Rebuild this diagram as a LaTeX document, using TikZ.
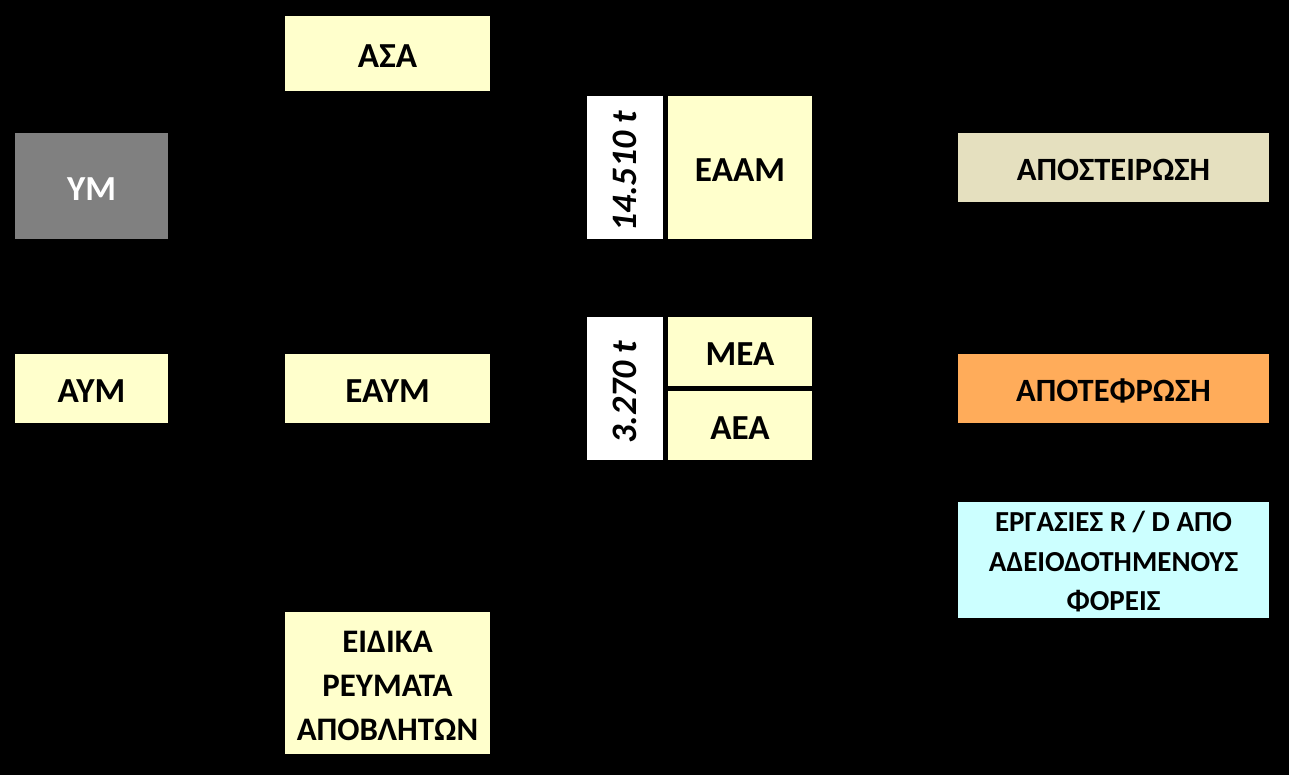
\documentclass[tikz,border=0pt]{standalone}
\usepackage{fontspec}
\setmainfont{Carlito}
\usepackage{tikz}
\usetikzlibrary{positioning}
\definecolor{boxyellow}{RGB}{255,255,204}
\definecolor{boxgray}{RGB}{128,128,128}
\definecolor{boxbeige}{RGB}{229,224,191}
\definecolor{boxorange}{RGB}{255,172,90}
\definecolor{boxcyan}{RGB}{204,255,255}

\begin{document}
\begin{tikzpicture}[x=0.02cm, y=-0.02cm,
    box/.style={fill=boxyellow, inner sep=0pt, align=center,
                text height=16.3pt, text depth=0pt,
                font=\fontsize{20}{24}\selectfont\bfseries},
    smallbox/.style={box, text height=15.3pt,
                font=\fontsize{18.5}{22}\selectfont\bfseries},
    multibox/.style={fill=boxyellow, inner sep=0pt, align=center},
    tonbox/.style={fill=white, inner sep=0pt, minimum width=1.52cm,
                   minimum height=2.86cm},
    tonlabel/.style={rotate=90, font=\fontsize{20.4}{24}\selectfont\bfseries\itshape}]
  % background
  \fill[black] (0,0) rectangle (1289,775);

  % sources
  \node[box, fill=boxgray, text=white, minimum width=3.06cm, minimum height=2.12cm] (ym) at (91.5,186) {ΥΜ};
  \node[box, minimum width=3.06cm, minimum height=1.38cm] (aym) at (91.5,388.5) {ΑΥΜ};

  % streams
  \node[box, minimum width=4.1cm, minimum height=1.5cm] (asa) at (387.5,53.5) {ΑΣΑ};
  \node[box, minimum width=4.1cm, minimum height=1.38cm] (eaym) at (387.5,388.5) {ΕΑΥΜ};
  \node[multibox, minimum width=4.1cm, minimum height=2.84cm,
        font=\fontsize{18.7}{25}\selectfont\bfseries] (eidika) at (387.5,683)
        {\rule{0pt}{15.4pt}ΕΙΔΙΚΑ\\ΡΕΥΜΑΤΑ\\ΑΠΟΒΛΗΤΩΝ};

  % quantities
  \node[tonbox] (ton1) at (625,167.5) {};
  \node[tonlabel] at ([yshift=-0.08cm]ton1.center) {14.510 t};
  \node[box, minimum width=2.88cm, minimum height=2.86cm] (eaam) at (740,167.5) {ΕΑΑΜ};
  \node[tonbox] (ton2) at (625,388.5) {};
  \node[tonlabel] at ([yshift=-0.07cm]ton2.center) {3.270 t};
  \node[box, minimum width=2.88cm, minimum height=1.38cm] (mea) at (740,351.5) {ΜΕΑ};
  \node[box, minimum width=2.88cm, minimum height=1.38cm] (aea) at (740,425.5) {ΑΕΑ};

  % treatment
  \node[smallbox, fill=boxbeige, minimum width=6.22cm, minimum height=1.38cm] (apost) at (1113.5,167.5) {ΑΠΟΣΤΕΙΡΩΣΗ};
  \node[smallbox, fill=boxorange, minimum width=6.22cm, minimum height=1.38cm] (apotef) at (1113.5,388.5) {ΑΠΟΤΕΦΡΩΣΗ};
  \node[multibox, fill=boxcyan, minimum width=6.22cm, minimum height=2.32cm,
        font=\fontsize{16.5}{22.4}\selectfont\bfseries] (ergas) at (1113.5,560)
        {\rule{0pt}{13.6pt}ΕΡΓΑΣΙΕΣ R / D ΑΠΟ\\ΑΔΕΙΟΔΟΤΗΜΕΝΟΥΣ\\ΦΟΡΕΙΣ};
\end{tikzpicture}
\end{document}
